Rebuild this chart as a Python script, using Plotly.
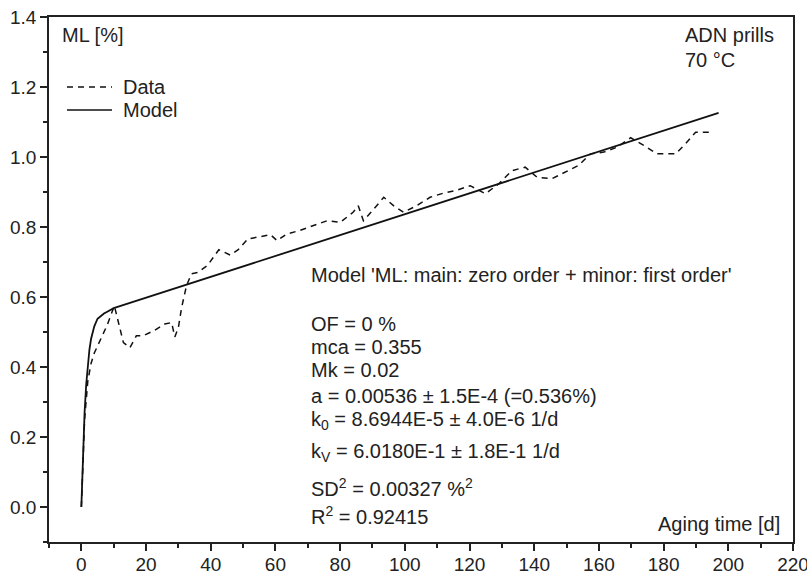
import plotly.graph_objects as go

# ---- data ----
t_data = [0, 1, 2, 3, 4, 6, 8, 10.2, 11.5, 13, 15, 17, 19, 22.5, 25.8, 27.9, 28.9, 30, 31,
          32.5, 34, 36, 39, 42.5, 46, 48.5, 51.5, 55.5, 58.5, 60.5, 63.5, 67.5, 71.5, 76,
          80, 84, 85.6, 87.2, 90, 93.5, 96.5, 99.6, 103.7, 107.8, 112, 116, 120.2, 124.9,
          129, 133.1, 137.2, 140.9, 145.5, 149.6, 153.7, 157.4, 161.5, 165.6, 169.8, 173.9,
          178, 183.7, 186.8, 189.9, 195]
ml_data = [0, 0.25, 0.36, 0.41, 0.44, 0.48, 0.52, 0.575, 0.53, 0.47, 0.455, 0.489, 0.489, 0.504,
           0.523, 0.527, 0.486, 0.513, 0.57, 0.632, 0.666, 0.67, 0.69, 0.735, 0.72, 0.735,
           0.766, 0.773, 0.778, 0.761, 0.78, 0.79, 0.804, 0.818, 0.813, 0.842, 0.861, 0.818,
           0.847, 0.885, 0.861, 0.842, 0.861, 0.885, 0.897, 0.905, 0.918, 0.895, 0.923, 0.961,
           0.971, 0.942, 0.938, 0.957, 0.976, 1.009, 1.014, 1.028, 1.055, 1.033, 1.009, 1.009,
           1.038, 1.071, 1.071]

t_model = [0, 0.5, 1, 1.5, 2, 2.5, 3, 4, 5, 6, 7, 8, 10, 197]
ml_model = [0, 0.15, 0.27, 0.35, 0.41, 0.45, 0.48, 0.516, 0.538, 0.547, 0.553, 0.558, 0.568, 1.126]

legend_labels = ["Data", "Model"]
y_title = "ML [%]"
x_title = "Aging time [d]"
sample_label = ["ADN prills", "70 °C"]
fit_lines = [
    "Model 'ML: main: zero order + minor: first order'",
    "OF = 0 %",
    "mca = 0.355",
    "Mk = 0.02",
    "a = 0.00536 ± 1.5E-4 (=0.536%)",
    "k<sub>0</sub> = 8.6944E-5 ± 4.0E-6 1/d",
    "k<sub>V</sub> = 6.0180E-1 ± 1.8E-1 1/d",
    "SD<sup>2</sup> = 0.00327 %<sup>2</sup>",
    "R<sup>2</sup> = 0.92415",
]
fit_y = [0.664, 0.524, 0.458, 0.392, 0.318, 0.246, 0.155, 0.057, -0.023]

FONT = "Liberation Sans, Arial, sans-serif"
TXT = "#222222"

fig = go.Figure()
fig.add_trace(go.Scatter(x=t_data, y=ml_data, mode="lines", name=legend_labels[0],
                         line=dict(color="#111111", width=1.5, dash="6px,5px"),
                         showlegend=False))
fig.add_trace(go.Scatter(x=t_model, y=ml_model, mode="lines", name=legend_labels[1],
                         line=dict(color="#111111", width=1.8), showlegend=False))

W, H = 807, 578
L, R, T, B = 49, 14, 17, 36
pw, ph = W - L - R, H - T - B

def px(x):
    return (x - L) / pw

def py(y):
    return 1 - (y - T) / ph

annotations = []
annotations.append(dict(x=px(60), y=py(35), xref="paper", yref="paper", text=y_title,
                        xanchor="left", yanchor="middle", showarrow=False,
                        font=dict(size=20, family=FONT, color=TXT)))
for i, s in enumerate(sample_label):
    annotations.append(dict(x=px(683), y=py(35 + 25 * i), xref="paper", yref="paper", text=s,
                            xanchor="left", yanchor="middle", showarrow=False,
                            font=dict(size=20, family=FONT, color=TXT)))
annotations.append(dict(x=px(782), y=py(524), xref="paper", yref="paper", text=x_title,
                        xanchor="right", yanchor="middle", showarrow=False,
                        font=dict(size=20, family=FONT, color=TXT)))
for s, yv in zip(fit_lines, fit_y):
    annotations.append(dict(x=70.4, y=yv, xref="x", yref="y", text=s,
                            xanchor="left", yanchor="middle", showarrow=False,
                            font=dict(size=20, family=FONT, color=TXT)))
shapes = []
leg_y = [87, 110]
leg_dash = ["6px,5px", "solid"]
for lab, yy, d in zip(legend_labels, leg_y, leg_dash):
    shapes.append(dict(type="line", xref="paper", yref="paper", x0=px(67), x1=px(112),
                       y0=py(yy), y1=py(yy), line=dict(color="#111111", width=1.5, dash=d)))
    annotations.append(dict(x=px(121), y=py(yy), xref="paper", yref="paper", text=lab,
                            xanchor="left", yanchor="middle", showarrow=False,
                            font=dict(size=20, family=FONT, color=TXT)))

axis_common = dict(showgrid=False, zeroline=False, showline=True, linecolor="#222222",
                   linewidth=1.6, mirror=True, ticks="outside", ticklen=7, tickwidth=1.5,
                   tickcolor="#222222", automargin=False, ticklabeloverflow="allow",
                   tickfont=dict(size=19, family=FONT, color=TXT))

fig.update_layout(
    width=W, height=H,
    margin=dict(l=L, r=R, t=T, b=B, autoexpand=False),
    paper_bgcolor="white", plot_bgcolor="white",
    showlegend=False,
    xaxis=dict(range=[-10, 220], tick0=0, dtick=20, ticklabelstandoff=-3,
               minor=dict(dtick=10, ticklen=4, tickwidth=1.5, ticks="outside", tickcolor="#222222"),
               **axis_common),
    yaxis=dict(range=[-0.1, 1.4], tick0=0, dtick=0.2, tickformat=".1f",
               minor=dict(dtick=0.1, ticklen=4, tickwidth=1.5, ticks="outside", tickcolor="#222222"),
               **axis_common),
    annotations=annotations,
    shapes=shapes,
)

fig.write_html("out.html")
